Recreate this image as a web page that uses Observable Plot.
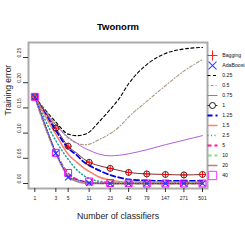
<!DOCTYPE html>
<html><head><meta charset="utf-8">
<script src="https://cdn.jsdelivr.net/npm/d3@7"></script>
<script src="https://cdn.jsdelivr.net/npm/@observablehq/plot@0.6"></script>
<style>
body{margin:0;background:#fff}
#wrap{position:relative;width:245px;height:245px;overflow:hidden}
#main{position:absolute;left:0;top:0}
#legend{position:absolute;left:207px;top:38px}
</style>
</head><body>
<div id="wrap"><div id="main"></div><div id="legend"></div></div>
<script>
// ---- data ----
const classifiers = [1, 3, 5, 7, 9, 11, 15, 23, 31, 43, 79, 147, 271, 501];
const tickClassifiers = [1, 3, 5, 11, 23, 43, 79, 147, 271, 501];
const yTicks = [0, 0.05, 0.10, 0.15, 0.20, 0.25];
const weights = ["0.25", "0.5", "0.75", "1", "1.25", "1.5", "2.5", "5", "10", "20"];

const err_0_25 = [0.172, 0.122, 0.098, 0.095, 0.097, 0.102, 0.120, 0.147, 0.168, 0.198, 0.236, 0.258, 0.267, 0.270];
const err_0_5  = [0.172, 0.118, 0.090, 0.080, 0.077, 0.078, 0.086, 0.099, 0.112, 0.132, 0.163, 0.194, 0.223, 0.246];
const err_0_75 = [0.172, 0.116, 0.092, 0.080, 0.071, 0.066, 0.059, 0.055, 0.056, 0.059, 0.067, 0.077, 0.086, 0.095];
const err_1    = [0.172, 0.110, 0.074, 0.060, 0.049, 0.042, 0.036, 0.030, 0.026, 0.022, 0.019, 0.018, 0.017, 0.018];
const err_1_25 = [0.172, 0.105, 0.070, 0.056, 0.043, 0.036, 0.027, 0.017, 0.012, 0.008, 0.006, 0.005, 0.005, 0.005];
const err_1_5  = [0.172, 0.098, 0.058, 0.042, 0.031, 0.024, 0.014, 0.007, 0.004, 0.003, 0.003, 0.003, 0.003, 0.003];
const err_2_5  = [0.172, 0.085, 0.048, 0.027, 0.016, 0.010, 0.005, 0.002, 0.001, 0.001, 0.001, 0.001, 0.001, 0.001];
const err_5    = [0.172, 0.062, 0.020, 0.008, 0.004, 0.002, 0.001, 0.001, 0.000, 0.000, 0.000, 0.000, 0.000, 0.000];
const err_10   = [0.172, 0.061, 0.016, 0.005, 0.002, 0.001, 0.0005, 0.000, 0.000, 0.000, 0.000, 0.000, 0.000, 0.000];
const err_20   = [0.172, 0.060, 0.014, 0.004, 0.001, 0.0005, 0.000, 0.000, 0.000, 0.000, 0.000, 0.000, 0.000, 0.000];

// values at tickClassifiers
const bagging  = [0.172, 0.110, 0.074, 0.042, 0.030, 0.022, 0.019, 0.018, 0.017, 0.018];
const adaboost = [0.172, 0.060, 0.012, 0.001, 0.000, 0.000, 0.000, 0.000, 0.000, 0.000];
const err_40   = [0.172, 0.061, 0.021, 0.004, 0.001, 0.0005, 0.000, 0.000, 0.000, 0.000];

const legendLabels = ["Bagging", "AdaBoost", "0.25", "0.5", "0.75", "1", "1.25", "1.5", "2.5", "5", "10", "20", "40"];

// ---- styles ----
const seriesValues = {"0.25": err_0_25, "0.5": err_0_5, "0.75": err_0_75, "1": err_1, "1.25": err_1_25,
  "1.5": err_1_5, "2.5": err_2_5, "5": err_5, "10": err_10, "20": err_20};
const styles = {
  "0.25": {stroke: "#000000", width: 1.1, dash: "3,2.5"},
  "0.5":  {stroke: "#a89880", width: 1.1, dash: "1,2,3,2"},
  "0.75": {stroke: "#b25fdc", width: 1.0, dash: null},
  "1":    {stroke: "#7a1515", width: 0.9, dash: null},
  "1.25": {stroke: "#0000ee", width: 1.8, dash: "5,3"},
  "1.5":  {stroke: "#fa8070", width: 1.5, dash: null},
  "2.5":  {stroke: "#10a0a0", width: 1.5, dash: "1,2.5"},
  "5":    {stroke: "#ff1493", width: 1.8, dash: "4,3"},
  "10":   {stroke: "#80e080", width: 1.8, dash: "4,3"},
  "20":   {stroke: "#b88080", width: 1.5, dash: null}
};
const FONT = "Liberation Sans, Arial, Helvetica, sans-serif";

const rowsFor = (ns, vals) => ns.map((n, i) => ({n, err: vals[i]}));
const X = d => d.n + 1; // axis is log(n + 1)

const marks = [Plot.frame({stroke: "#ababab", strokeWidth: 2})];
for (const w of weights) {
  const st = styles[w];
  marks.push(Plot.line(rowsFor(classifiers, seriesValues[w]), {
    x: X, y: "err", stroke: st.stroke, strokeWidth: st.width,
    strokeDasharray: st.dash ?? undefined, curve: "monotone-x"
  }));
}
const tickIdx = n => classifiers.indexOf(n);
marks.push(
  Plot.line(rowsFor(tickClassifiers, adaboost), {x: X, y: "err", stroke: "#2233ff", strokeWidth: 1, strokeDasharray: "1,1.5"}),
  Plot.dot(rowsFor(tickClassifiers, tickClassifiers.map(n => err_1[tickIdx(n)])), {x: X, y: "err", symbol: "circle", r: 3, stroke: "#000", fill: "none", strokeWidth: 0.8}),
  Plot.dot(rowsFor(tickClassifiers, bagging), {x: X, y: "err", symbol: "plus", r: 2.4, stroke: "#ff0000", strokeWidth: 1}),
  Plot.dot(rowsFor(tickClassifiers, err_40), {x: X, y: "err", symbol: "square", r: 3.9, stroke: "#ff00ff", fill: "none", strokeWidth: 1}),
  Plot.dot(rowsFor(tickClassifiers, adaboost), {x: X, y: "err", symbol: "times", r: 2.8, stroke: "#2233ff", strokeWidth: 1.1}),
  Plot.axisX({ticks: tickClassifiers.map(n => n + 1), tickFormat: () => "", tickSize: 4, label: null, stroke: "#333"}),
  Plot.text(tickClassifiers, {x: n => n + 1, text: n => String(n), frameAnchor: "bottom", dy: 11, fontSize: 5, fill: "#222"}),
  Plot.axisY({ticks: yTicks, tickSize: 5, tickFormat: () => "", label: null, stroke: "#333"}),
  Plot.text(yTicks, {y: d => d, text: d => d3.format(".2f")(d), frameAnchor: "left", dx: -9, rotate: -90, fontSize: 5, fill: "#222"}),
  Plot.text(["Twonorm"], {frameAnchor: "top", dy: -19, fontSize: 9.5, fontWeight: "bold"}),
  Plot.text(["Training error"], {frameAnchor: "left", dx: -20, rotate: -90, fontSize: 8.5, fill: "#222"}),
  Plot.text(["Number of classifiers"], {frameAnchor: "bottom", dy: 30, fontSize: 8.8, fill: "#222"})
);

const chart = Plot.plot({
  width: 245, height: 245,
  marginLeft: 28, marginRight: 38, marginTop: 42, marginBottom: 57,
  style: {fontFamily: FONT, background: "white", overflow: "visible"},
  x: {type: "log", domain: [1.625, 592], axis: null},
  y: {domain: [-0.0099, 0.2798], axis: null},
  marks
});
document.getElementById("main").append(chart);

// ---- legend ----
const lineEntries = weights.filter(w => w !== "1");
const legendMarks = [];
for (const w of lineEntries) {
  const st = styles[w];
  legendMarks.push(Plot.ruleY([w], {y: d => d, x1: () => 0.5, x2: () => 10.5, stroke: st.stroke,
    strokeWidth: st.width, strokeDasharray: st.dash ?? undefined}));
}
legendMarks.push(
  Plot.ruleY(["1"], {y: d => d, x1: () => 0.5, x2: () => 10.5, stroke: "#000", strokeWidth: 0.8}),
  Plot.dot(["1"], {y: d => d, x: () => 5, symbol: "circle", r: 3, stroke: "#000", fill: "white", strokeWidth: 0.9}),
  Plot.dot(["Bagging"], {y: d => d, x: () => 5, symbol: "plus", r: 3.3, stroke: "#ff2020", strokeWidth: 1}),
  Plot.dot(["AdaBoost"], {y: d => d, x: () => 5, symbol: "times", r: 3.7, stroke: "#3344ff", strokeWidth: 1.1}),
  Plot.dot(["40"], {y: d => d, x: () => 5, symbol: "square", r: 4.7, stroke: "#ff33ff", fill: "none", strokeWidth: 1}),
  Plot.text(legendLabels, {y: d => d, x: () => 14.7, text: d => d, textAnchor: "start", fontSize: 5.2, fill: "#111"})
);
const legend = Plot.plot({
  width: 38, height: 156, margin: 0,
  style: {fontFamily: FONT, background: "transparent", overflow: "visible"},
  x: {domain: [0, 38], range: [0, 38], axis: null},
  y: {type: "point", domain: legendLabels, range: [6.3, 148.3], axis: null},
  marks: legendMarks
});
document.getElementById("legend").append(legend);
</script>
</body></html>
